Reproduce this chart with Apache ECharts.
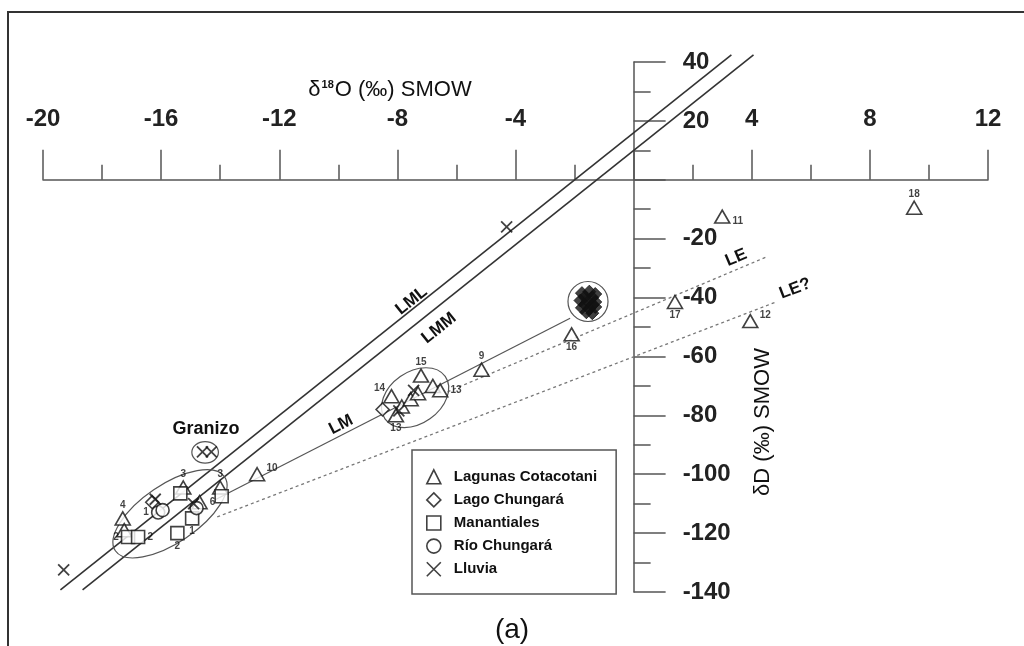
<!DOCTYPE html>
<html><head><meta charset="utf-8">
<script src="https://cdn.jsdelivr.net/npm/echarts@6/dist/echarts.min.js"></script>
<style>html,body{margin:0;padding:0;background:#fff}#c{width:1024px;height:646px}</style>
</head><body><div id="c"></div>
<script>
// ---------- axes ----------
const xAxisRange = [-20, 12, 4];      // min, max, interval (δ18O ‰ SMOW)
const yAxisRange = [-140, 40, 20];    // min, max, interval (δD ‰ SMOW)

// ---------- samples [δ18O, δD, sample no.] ----------
const lagunasCotacotani = [
  [9.5, -9.5, '18'], [3.0, -12.5, '11'], [1.4, -41.5, '17'], [3.95, -48, '12'],
  [-2.1, -52.5, '16'], [-5.15, -64.5, '9'], [-12.75, -100, '10'],
  [-7.2, -66.5, '15'], [-6.8, -70, ''], [-6.55, -71.5, '13'], [-8.2, -73.5, '14'],
  [-7.85, -77, ''], [-7.55, -74.5, ''], [-8.05, -80, '13'], [-7.3, -72.5, ''],
  [-17.3, -115, '4'], [-14.7, -109.5, '6'], [-15.25, -104.5, '3'], [-14.0, -104.5, '3'],
  [-17.25, -119, '']
];
const cotacotaniLabelPos = ['T','RB','B','RS','B','T','RS','T','','R','LT','','','B','','T','R','T','T',''];

const lagoChungara = [[-16.3, -109.5], [-8.5, -78]];
const lagoChungaraLake = [
  [-1.75, -38.5], [-1.5, -38], [-1.3, -38.8], [-1.65, -39.8], [-1.4, -40],
  [-1.8, -41], [-1.55, -41.2], [-1.3, -41.5], [-1.65, -42.4], [-1.4, -42.6],
  [-1.75, -43.5], [-1.5, -43.8], [-1.3, -43.2], [-1.6, -45], [-1.4, -45.3]
];

const manantiales = [
  [-17.12, -121.3, '2'], [-16.78, -121.3, '2'], [-15.45, -120, '2'],
  [-14.95, -115, '1'], [-13.95, -107.5, ''], [-15.35, -106.5, '']
];
const manantialesLabelPos = ['L','R','B','B','',''];

const rioChungara = [[-16.1, -113, '1'], [-15.95, -112.2, ''], [-14.8, -111.5, '']];
const rioLabelPos = ['L','',''];

const lluvia = [
  [-4.3, -16], [-19.3, -132.5], [-14.6, -92.4], [-14.3, -92.4],
  [-16.2, -108.5], [-14.9, -110], [-7.95, -78.5], [-7.45, -71.5]
];

// ---------- lines [start, end] in (δ18O, δD) ----------
const lineLML = [[-19.41, -139.3], [3.31, 42.46]];
const lineLMM = [[-18.66, -139.3], [4.06, 42.46]];
const lineLM  = [[-14.17, -108.7], [-2.15, -47.0]];
const lineLE  = [[-6.3, -72], [4.5, -26.2]];
const lineLE2 = [[-14.1, -114.5], [4.85, -41.4]];
const allLines = [lineLML, lineLMM, lineLM, lineLE, lineLE2];

// line names: text, anchor δ18O, δD, line index
const lineLabels = [
  ['LML', -7.52, -41.1, 0], ['LMM', -6.59, -50.4, 1], ['LM', -9.91, -83.2, 2],
  ['LE', 3.47, -26.5, 3], ['LE?', 5.47, -37.0, 4]
];
const otherLabels = [['Granizo', -14.48, -84.6]];

// group ellipses: centre δ18O, δD, end of major axis δ18O, δD
const groupEllipses = [
  [-15.7, -113.45, -13.85, -100.9],
  [-7.4, -74.0, -6.38, -66.8],
  [-1.545, -41.34, -0.867, -41.34],
  [-14.51, -92.56, -14.06, -92.56]
];
const ellipseAspect = [0.44, 0.7, 1, 0.81];

// ---------- styles ----------
const FONT = 'Liberation Sans';
const GRID = {left: 43, top: 62, width: 945, height: 530};
// put the axes through the origin (axes cross at 0,0)
const xAxisOffset = -GRID.height * yAxisRange[1] / (yAxisRange[1] - yAxisRange[0]);
const yAxisOffset = -GRID.width * xAxisRange[1] / (xAxisRange[1] - xAxisRange[0]);

const POS = {
  T:  {position: 'top', distance: 1},
  B:  {position: 'bottom', distance: 1},
  R:  {position: 'right', distance: 2},
  L:  {position: 'left', distance: 2},
  RS: {position: 'right', distance: 1, offset: [0, -6]},
  RB: {position: 'right', distance: 2, offset: [0, 5]},
  LT: {position: 'left', distance: 0, offset: [2, -8]}
};
function pts(arr, posArr) {
  return arr.map((r, i) => {
    const item = {value: [r[0], r[1]]};
    const p = posArr && posArr[i];
    if (r[2] && p) item.label = Object.assign({show: true, formatter: r[2]}, POS[p]);
    return item;
  });
}
const hollow = {color: '#fff', borderColor: '#111', borderWidth: 1.6};
const numLabel = {show: false, fontSize: 10, fontWeight: 'bold', color: '#111', fontFamily: FONT};

function lineSeries(d, style) {
  return {type: 'line', data: d, symbol: 'none', clip: false, silent: true, z: 2,
          lineStyle: style, animation: false};
}

const chart = echarts.init(document.getElementById('c'), null, {renderer: 'canvas'});
chart.setOption({
  animation: false,
  backgroundColor: '#fff',
  textStyle: {fontFamily: FONT},
  grid: Object.assign({outerBoundsMode: 'none'}, GRID),
  xAxis: {
    type: 'value', min: xAxisRange[0], max: xAxisRange[1], interval: xAxisRange[2],
    position: 'top', offset: xAxisOffset,
    axisLine: {onZero: false, lineStyle: {color: '#555', width: 1.5}},
    axisTick: {show: true, length: 30, lineStyle: {color: '#555', width: 1.5}},
    minorTick: {show: true, splitNumber: 2, length: 15, lineStyle: {color: '#555', width: 1.5}},
    axisLabel: {margin: 48, fontSize: 24, fontWeight: 'bold', color: '#222', fontFamily: FONT,
                formatter: v => v === 0 ? '' : String(v)},
    splitLine: {show: false}
  },
  yAxis: {
    type: 'value', min: yAxisRange[0], max: yAxisRange[1], interval: yAxisRange[2],
    position: 'right', offset: yAxisOffset,
    axisLine: {onZero: false, lineStyle: {color: '#555', width: 1.5}},
    axisTick: {show: true, length: 32, lineStyle: {color: '#555', width: 1.5}},
    minorTick: {show: true, splitNumber: 2, length: 17, lineStyle: {color: '#555', width: 1.5}},
    axisLabel: {margin: 49, fontSize: 24, fontWeight: 'bold', color: '#222', fontFamily: FONT,
                formatter: v => v === 0 ? '' : String(v)},
    splitLine: {show: false}
  },
  legend: {
    orient: 'vertical', left: 412, top: 450,
    padding: [19, 19, 17, 14],
    itemWidth: 14, itemHeight: 14, itemGap: 7.5,
    borderColor: '#555', borderWidth: 1.5, backgroundColor: '#fff',
    textStyle: {fontFamily: FONT, fontWeight: 'bold', fontSize: 15, color: '#111', padding: [0, 0, 0, 8]},
    itemStyle: {borderWidth: 1.6},
    data: ['Lagunas Cotacotani', 'Lago Chungará', 'Manantiales', 'Río Chungará', 'Lluvia'],
    selectedMode: false
  },
  graphic: [
    {type: 'rect', shape: {x: 8, y: 12, width: 1040, height: 660},
     style: {fill: 'none', stroke: '#333', lineWidth: 2}, silent: true},
    {type: 'text', x: 390, y: 90,
     style: {text: 'δ{s|18}O (‰) SMOW', font: '22px "Liberation Sans"', fill: '#111',
             align: 'center', verticalAlign: 'middle',
             rich: {s: {fontSize: 11, fontWeight: 'bold', padding: [0, 1, 10, 1], fill: '#111'}}}},
    {type: 'text', x: 763, y: 422, rotation: Math.PI / 2,
     style: {text: 'δD (‰) SMOW', font: '22px "Liberation Sans"', fill: '#111',
             align: 'center', verticalAlign: 'middle'}},
    {type: 'text', x: 512, y: 630,
     style: {text: '(a)', font: '28px "Liberation Sans"', fill: '#111',
             align: 'center', verticalAlign: 'middle'}}
  ],
  series: [
    lineSeries(lineLML, {color: '#333', width: 1.6}),
    lineSeries(lineLMM, {color: '#333', width: 1.6}),
    lineSeries(lineLM, {color: '#555', width: 1.2}),
    lineSeries(lineLE, {color: '#777', width: 1.3, type: [3, 3]}),
    lineSeries(lineLE2, {color: '#777', width: 1.3, type: [3, 3]}),
    {
      type: 'custom', silent: true, z: 3,
      data: groupEllipses.map(e => [e[0], e[1], e[2], e[3]]),
      renderItem: (params, api) => {
        const e = groupEllipses[params.dataIndex];
        const c = api.coord([e[0], e[1]]), m = api.coord([e[2], e[3]]);
        const dx = m[0] - c[0], dy = m[1] - c[1];
        const a = Math.hypot(dx, dy);
        return {type: 'ellipse', x: c[0], y: c[1], rotation: Math.atan2(-dy, dx),
                shape: {cx: 0, cy: 0, rx: a, ry: a * ellipseAspect[params.dataIndex]},
                style: {fill: 'none', stroke: '#555', lineWidth: 1.2}};
      }
    },
    {
      type: 'custom', silent: true, z: 6,
      data: lineLabels.map(l => [l[1], l[2]]),
      renderItem: (params, api) => {
        const l = lineLabels[params.dataIndex];
        const p = api.coord([l[1], l[2]]);
        const L = allLines[l[3]];
        const a = api.coord(L[0]), b = api.coord(L[1]);
        return {type: 'text', x: p[0], y: p[1], rotation: Math.atan2(a[1] - b[1], b[0] - a[0]),
                style: {text: l[0], font: 'bold 17px "Liberation Sans"', fill: '#111',
                        align: 'center', verticalAlign: 'middle'}};
      }
    },
    {
      type: 'custom', silent: true, z: 6,
      data: otherLabels.map(l => [l[1], l[2]]),
      renderItem: (params, api) => {
        const l = otherLabels[params.dataIndex];
        const p = api.coord([l[1], l[2]]);
        return {type: 'text', x: p[0], y: p[1],
                style: {text: l[0], font: 'bold 18px "Liberation Sans"', fill: '#111',
                        align: 'center', verticalAlign: 'middle'}};
      }
    },
    {name: 'Lagunas Cotacotani', type: 'scatter', symbol: 'triangle', symbolSize: [15, 13], z: 5,
     itemStyle: hollow, label: numLabel, data: pts(lagunasCotacotani, cotacotaniLabelPos)},
    {name: 'Lago Chungará', type: 'scatter', symbol: 'diamond', symbolSize: 13, z: 5,
     itemStyle: hollow, data: pts(lagoChungara)},
    {name: 'Lago Chungará', type: 'scatter', symbol: 'diamond', symbolSize: 13, z: 5,
     itemStyle: {color: '#111', borderColor: '#111', borderWidth: 1}, data: pts(lagoChungaraLake)},
    {name: 'Manantiales', type: 'scatter', symbol: 'rect', symbolSize: 13, z: 5,
     itemStyle: hollow, label: numLabel, data: pts(manantiales, manantialesLabelPos)},
    {name: 'Río Chungará', type: 'scatter', symbol: 'circle', symbolSize: 13, z: 5,
     itemStyle: hollow, label: numLabel, data: pts(rioChungara, rioLabelPos)},
    {name: 'Lluvia', type: 'scatter', symbol: 'path://M0,0L10,10M10,0L0,10', symbolSize: 11, z: 5,
     itemStyle: {color: '#111', borderColor: '#111', borderWidth: 1.8}, data: pts(lluvia)}
  ]
});
</script></body></html>
